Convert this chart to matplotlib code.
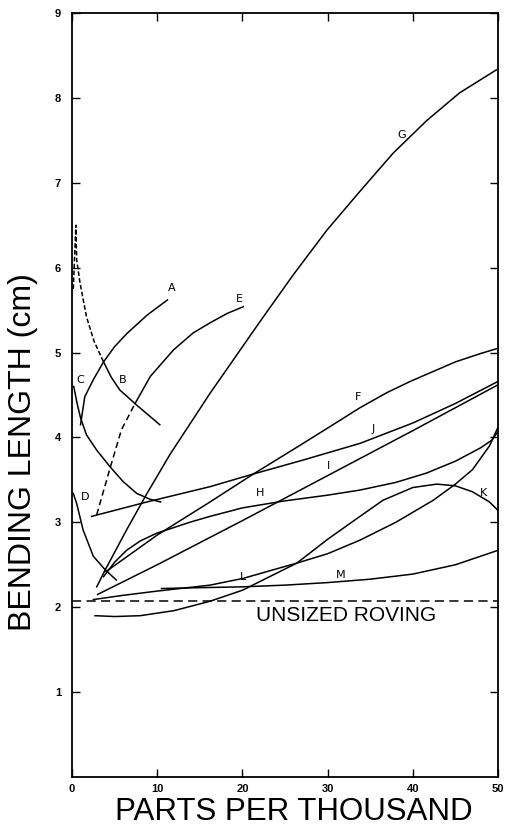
import matplotlib.pyplot as plt

# bending length (cm) against size add-on (parts per thousand), one curve per size
a_x = [1.0, 1.5, 2.5, 3.7, 5.0, 6.4, 8.8, 11.2]
a_y = [4.15, 4.48, 4.68, 4.89, 5.07, 5.22, 5.44, 5.62]

b_x = [0.15, 0.45, 0.55, 0.94, 1.7, 2.6, 3.7, 4.6, 5.6, 7.6, 10.3]
b_y = [5.75, 6.5, 6.09, 5.82, 5.42, 5.13, 4.89, 4.71, 4.56, 4.38, 4.15]

c_x = [0.2, 0.6, 1.0, 1.7, 2.9, 4.5, 6.0, 7.6, 9.2, 10.4]
c_y = [4.6, 4.4, 4.23, 4.03, 3.85, 3.65, 3.48, 3.34, 3.27, 3.24]

d_x = [0.15, 0.55, 1.3, 2.5, 3.9, 5.2]
d_y = [3.34, 3.22, 2.91, 2.6, 2.44, 2.32]

e_x = [2.9, 4.5, 5.8, 7.4, 9.2, 11.9, 14.2, 16.2, 18.2, 20.1]
e_y = [3.09, 3.65, 4.09, 4.4, 4.72, 5.03, 5.23, 5.35, 5.46, 5.54]

f_x = [4.0, 10, 16.2, 21.3, 26, 30, 33.8, 37, 39.7, 42, 45, 48, 50]
f_y = [2.42, 2.85, 3.24, 3.57, 3.86, 4.11, 4.35, 4.53, 4.66, 4.76, 4.89, 4.99, 5.05]

g_x = [2.9, 3.9, 6.4, 8.8, 11.5, 16.2, 22.1, 26, 29.9, 33.8, 37.7, 41.6, 45.5, 49.8]
g_y = [2.24, 2.44, 2.91, 3.34, 3.8, 4.52, 5.37, 5.92, 6.44, 6.9, 7.35, 7.73, 8.06, 8.33]

h_x = [3.7, 5, 6.4, 8, 9.9, 13.8, 16.2, 20, 24.8, 30, 33.8, 38, 41.6, 45, 48, 49.3, 50]
h_y = [2.36, 2.53, 2.67, 2.78, 2.87, 3.0, 3.07, 3.17, 3.25, 3.32, 3.38, 3.47, 3.58, 3.72, 3.88, 3.97, 4.07]

i_x = [3.0, 10, 20, 30, 40, 50]
i_y = [2.15, 2.5, 3.02, 3.55, 4.08, 4.62]

j_x = [2.3, 8.8, 16.2, 21.3, 27, 33.8, 40, 45, 50]
j_y = [3.07, 3.24, 3.42, 3.57, 3.73, 3.93, 4.17, 4.4, 4.66]

k_x = [2.7, 5, 8, 12, 16.2, 20, 24, 26.4, 30, 33.8, 36.5, 40, 42.8, 45, 47, 49, 50]
k_y = [1.9, 1.89, 1.9, 1.96, 2.07, 2.2, 2.4, 2.52, 2.8, 3.07, 3.26, 3.41, 3.45, 3.43, 3.36, 3.24, 3.14]

l_x = [2.5, 6, 10, 16.2, 20.1, 26.4, 30, 33.8, 38, 42.4, 45, 47, 49, 50]
l_y = [2.09, 2.14, 2.19, 2.26, 2.34, 2.52, 2.63, 2.79, 3.0, 3.26, 3.45, 3.62, 3.9, 4.12]

m_x = [10.5, 15, 20, 25, 30, 35, 40, 45, 50]
m_y = [2.22, 2.23, 2.24, 2.26, 2.29, 2.33, 2.39, 2.5, 2.67]

unsized = 2.07

# where each letter sits
letters = ['A', 'B', 'C', 'D', 'E', 'F', 'G', 'H', 'I', 'J', 'K', 'L', 'M']
letter_x = [11.7, 6.0, 0.94, 1.5, 19.7, 33.6, 38.7, 22.1, 30.1, 35.4, 48.3, 20.1, 31.5]
letter_y = [5.76, 4.68, 4.68, 3.3, 5.63, 4.48, 7.56, 3.34, 3.66, 4.1, 3.34, 2.36, 2.38]

plt.rcParams['font.family'] = ['Liberation Sans', 'DejaVu Sans']

fig = plt.figure(figsize=(5.2, 8.35), dpi=100)
ax = fig.add_axes([0.1385, 0.0695, 0.8192, 0.9149])

lw = 1.1
for xs, ys in [(a_x, a_y), (c_x, c_y), (d_x, d_y), (f_x, f_y), (g_x, g_y),
               (h_x, h_y), (i_x, i_y), (j_x, j_y), (k_x, k_y), (l_x, l_y), (m_x, m_y)]:
    ax.plot(xs, ys, color='black', lw=lw)

# B: broken up to where it meets A, solid after
ax.plot(b_x[:7], b_y[:7], color='black', lw=lw, dashes=(3, 1.5))
ax.plot(b_x[6:], b_y[6:], color='black', lw=lw)

# E: dashed lower part
ax.plot(e_x[:4], e_y[:4], color='black', lw=lw, dashes=(4, 2.5))
ax.plot(e_x[3:], e_y[3:], color='black', lw=lw)

ax.axhline(unsized, color='black', lw=1.1, dashes=(6, 3.5))
ax.text(32.2, unsized - 0.17, 'UNSIZED ROVING', fontsize=15, ha='center', va='center')

for t, x, y in zip(letters, letter_x, letter_y):
    ax.text(x, y, t, fontsize=8, family='DejaVu Sans', ha='center', va='center')

ax.set_xlim(0, 50)
ax.set_ylim(0, 9)
ax.set_xticks([0, 10, 20, 30, 40, 50])
ax.set_yticks(range(1, 10))
ax.tick_params(direction='in', length=6, width=1.0, top=True, right=True,
               labelsize=8)
ax.tick_params(axis='y', pad=8)
ax.tick_params(axis='x', pad=5)
for lab in ax.get_xticklabels() + ax.get_yticklabels():
    lab.set_fontweight('bold')
for s in ax.spines.values():
    s.set_linewidth(1.3)

ax.set_xlabel('PARTS PER THOUSAND', fontsize=22.5)
ax.xaxis.set_label_coords(0.52, -0.026, transform=ax.transAxes)
ax.xaxis.label.set_va('top')
ax.set_ylabel('BENDING LENGTH (cm)', fontsize=23)
ax.yaxis.set_label_coords(-0.079, 0.425, transform=ax.transAxes)

fig.savefig('out.png', dpi=100)
